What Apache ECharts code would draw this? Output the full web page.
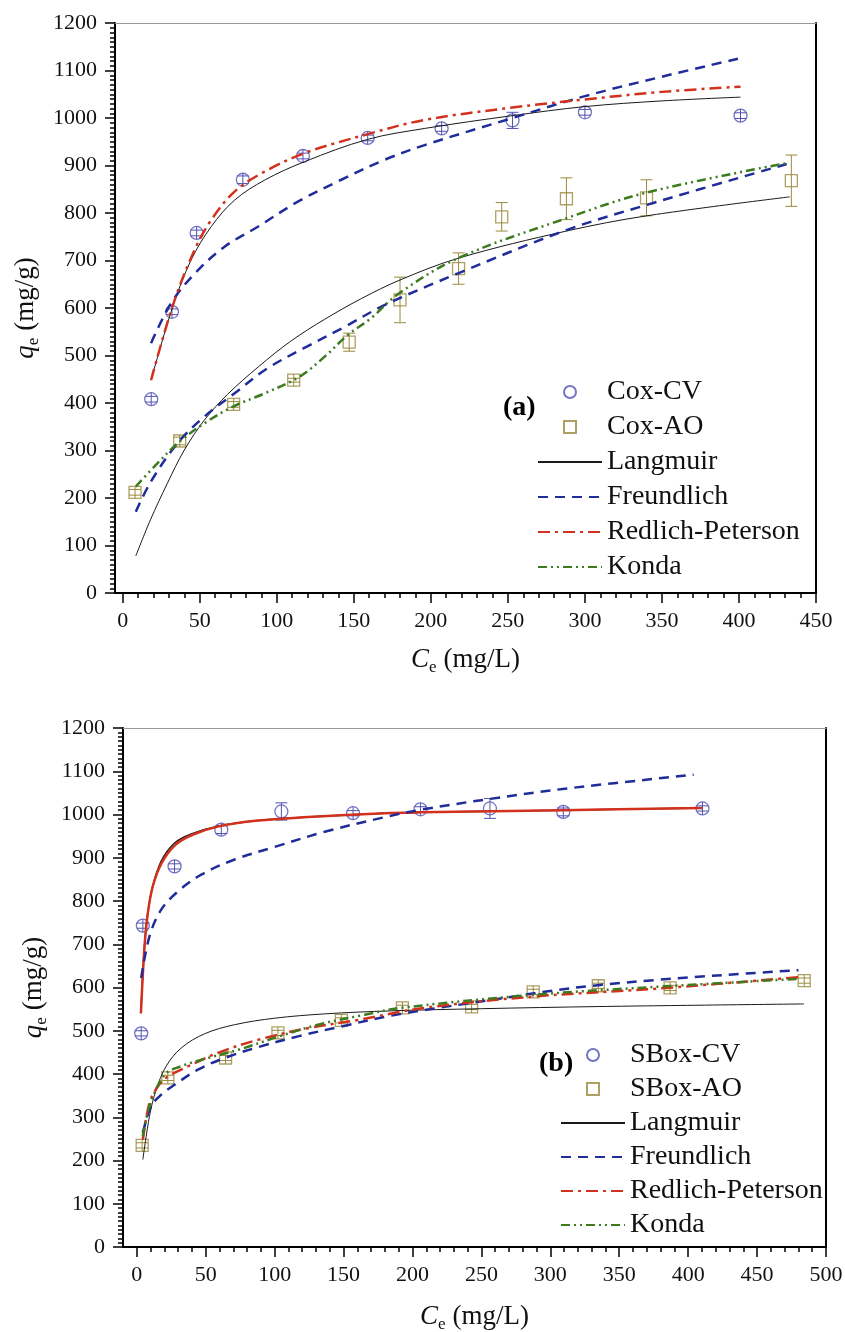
<!DOCTYPE html>
<html>
<head>
<meta charset="utf-8">
<script src="https://cdn.jsdelivr.net/npm/echarts@6/dist/echarts.min.js"></script>
<style>
  html, body { margin: 0; padding: 0; background: #fff; }
  #chart { width: 845px; height: 1332px; }
</style>
</head>
<body>
<div id="chart"></div>
<script>
// ---------- (a) Cox samples ----------
const cvA_C = [18.5, 32, 48, 78, 117, 159, 207, 253, 300, 401]
const cvA_q = [408, 592, 758, 870, 920, 958, 978, 995, 1012, 1005]
const cvA_err = [6, 6, 6, 8, 6, 6, 6, 17, 6, 6]

const aoA_C = [8, 37, 72, 111, 147, 180, 218, 246, 288, 340, 434]
const aoA_q = [212, 320, 397, 448, 528, 617, 683, 792, 830, 832, 868]
const aoA_err = [6, 8, 6, 4, 19, 48, 33, 30, 44, 38, 54]

// fitted curves (a)
const langCvA_C = [18.4, 32.5, 44.4, 57.4, 72.6, 92, 118, 159, 196, 253, 300, 350, 401]
const langCvA_q = [448, 603, 701, 771, 827, 869, 908, 955, 978, 1005, 1024, 1036, 1044]
const rpCvA_C = [18.4, 32.5, 46.6, 57.4, 72.6, 92, 118, 159, 196, 253, 300, 350, 401]
const rpCvA_q = [448, 605, 722, 785, 845, 887, 926, 966, 996, 1022, 1039, 1055, 1066]
const frCvA_C = [18.4, 31.4, 46.6, 66.1, 87.7, 113.7, 141.9, 170, 196, 253, 300, 350, 401]
const frCvA_q = [526, 610, 672, 729, 771, 824, 870, 912, 943, 1000, 1046, 1087, 1126]

const langAoA_C = [8.5, 18, 29, 40, 53, 68, 88, 109, 131, 155, 180, 218, 288, 340, 433]
const langAoA_q = [78, 154, 231, 301, 364, 418, 476, 530, 576, 620, 659, 705, 762, 794, 834]
const frAoA_C = [8.5, 18.2, 35.5, 52.9, 72.4, 94, 117.9, 143.9, 169.9, 217.7, 288, 340, 431]
const frAoA_q = [171, 234, 315, 371, 420, 473, 516, 560, 606, 673, 764, 817, 903]
const kdAoA_C = [8.5, 22.5, 36.6, 52.9, 71.3, 91.9, 114.6, 130.9, 146, 161, 179, 217.7, 288, 340, 431]
const kdAoA_q = [224, 273, 318, 357, 392, 420, 455, 497, 543, 578, 630, 705, 789, 843, 905]

// ---------- (b) SBox samples ----------
const cvB_C = [3.2, 4.4, 27.4, 61.3, 104.9, 156.9, 205.8, 256.2, 309.4, 410.4]
const cvB_q = [494, 743, 880, 965, 1007, 1003, 1012, 1014, 1006, 1014]
const cvB_err = [6, 6, 6, 9, 20, 6, 6, 23, 9, 6]

const aoB_C = [3.9, 22.5, 64.4, 102.4, 148.4, 192.7, 242.9, 287.6, 334.8, 386.9, 484.2]
const aoB_q = [235, 391, 437, 495, 524, 553, 555, 590, 604, 599, 616]
const aoB_err = [6, 6, 6, 6, 6, 6, 6, 6, 6, 6, 6]

// fitted curves (b)
const langCvB_C = [3.0, 5.6, 8, 11.6, 17.7, 27.4, 39.5, 58.8, 87.9, 124.2, 180, 206, 309, 410]
const langCvB_q = [545, 695, 772, 834, 892, 934, 955, 973, 986, 994, 1003, 1005, 1010, 1015]
const rpCvB_C = [3.0, 5.6, 8, 11.6, 17.7, 27.4, 39.5, 58.8, 87.9, 124.2, 180, 206, 309, 410]
const rpCvB_q = [540, 695, 772, 834, 886, 928, 952, 972, 986, 994, 1003, 1005, 1010, 1015]
const frCvB_C = [3.2, 9.2, 17.7, 29.8, 46.8, 71, 100, 136.3, 180, 206, 256, 309, 404]
const frCvB_q = [622, 718, 780, 822, 861, 896, 925, 960, 994, 1011, 1036, 1059, 1092]

const langAoB_C = [4.4, 9.2, 14.1, 21.3, 32.2, 49.2, 71, 100, 136.3, 184.8, 250, 336, 484]
const langAoB_q = [202, 302, 364, 418, 460, 493, 514, 529, 539, 546, 551, 556, 562]
const frAoB_C = [4.4, 10.4, 17.7, 27.4, 44.3, 63.7, 87.9, 117, 148.5, 184.8, 240, 336, 480]
const frAoB_q = [264, 325, 352, 375, 410, 437, 462, 487, 510, 535, 563, 606, 640]
const rpAoB_C = [4.4, 9.2, 15.3, 22.5, 39.5, 58.8, 87.9, 124.2, 160.5, 209, 287.6, 384.5, 480]
const rpAoB_q = [248, 333, 371, 394, 421, 449, 479, 506, 525, 553, 579, 599, 624]
const kdAoB_C = [4.4, 9.2, 20.1, 32.2, 51.6, 75.8, 102.4, 131.5, 165.4, 192, 287.6, 384.5, 480]
const kdAoB_q = [256, 325, 398, 418, 437, 458, 486, 514, 537, 553, 583, 603, 620]

// axis ticks
const ticksA = [0, 50, 100, 150, 200, 250, 300, 350, 400, 450]
const ticksB = [0, 50, 100, 150, 200, 250, 300, 350, 400, 450, 500]
const minorA = Array.from({ length: 46 }, (_, i) => i * 10)
const minorB = Array.from({ length: 51 }, (_, i) => i * 10)

const FONT = '"Liberation Serif", "Times New Roman", serif'
const CV_COLOR = '#5252b4'
const AO_COLOR = '#9a8a3c'
const SQUARE = 'path://M0 0H10V10H0Z'
const LINE = {
  Langmuir: { color: '#1a1a1a', width: 1, type: 'solid' },
  Freundlich: { color: '#1f2c99', width: 2.5, type: [10, 7] },
  'Redlich-Peterson': { color: '#d2311d', width: 2.5, type: [12, 5, 3, 5] },
  Konda: { color: '#3d7b1f', width: 2.5, type: [9, 4, 2, 4, 2, 4] }
}

const pairs = (xs, ys) => xs.map((x, i) => [x, ys[i]])

// g = 0 for (a), 1 for (b)
function curve(name, xs, ys, g, override) {
  const ls = Object.assign({}, LINE[name], override || {})
  return {
    type: 'line', name, xAxisIndex: g * 3, yAxisIndex: g * 2,
    data: pairs(xs, ys), showSymbol: false, symbol: 'none',
    smooth: 0.35, z: 4, silent: true,
    color: ls.color,
    itemStyle: { color: ls.color, opacity: 0 },
    lineStyle: ls
  }
}

function points(name, xs, ys, g, symbol, size, color) {
  return {
    type: 'scatter', name, xAxisIndex: g * 3, yAxisIndex: g * 2,
    data: pairs(xs, ys), symbol, symbolSize: size, symbolKeepAspect: true,
    z: 3, silent: true,
    itemStyle: { color: 'rgba(255,255,255,0)', borderColor: color, borderWidth: 1.3 }
  }
}

function errorBars(id, xs, ys, es, g, color, r) {
  return {
    type: 'custom', name: id, xAxisIndex: g * 3, yAxisIndex: g * 2,
    data: xs.map((x, i) => [x, ys[i], es[i]]), encode: { x: 0, y: 1 },
    z: 3, silent: true,
    renderItem: (params, api) => {
      const x = api.value(0), y = api.value(1), e = api.value(2)
      const c = api.coord([x, y])
      const hi = api.coord([x, y + e])
      const lo = api.coord([x, y - e])
      const w = 6
      const st = { stroke: color, lineWidth: 1 }
      return {
        type: 'group',
        children: [
          { type: 'line', shape: { x1: c[0], y1: Math.min(hi[1], c[1] - r), x2: c[0], y2: Math.max(lo[1], c[1] + r) }, style: st },
          { type: 'line', shape: { x1: c[0] - w, y1: hi[1], x2: c[0] + w, y2: hi[1] }, style: st },
          { type: 'line', shape: { x1: c[0] - w, y1: lo[1], x2: c[0] + w, y2: lo[1] }, style: st }
        ]
      }
    }
  }
}

const nameRich = {
  v: { fontStyle: 'italic', fontSize: 27, fontFamily: FONT, color: '#111' },
  s: { fontSize: 17, fontFamily: FONT, color: '#111', padding: [16, 0, 0, 0] },
  t: { fontSize: 27, fontFamily: FONT, color: '#111' }
}

const plain = v => String(v)

function xAxes(g, min, max, majors, minors, gap) {
  const tick = { color: '#000', width: 1.5 }
  return [
    {
      gridIndex: g, type: 'value', min, max, position: 'bottom',
      axisLine: { show: true, onZero: false, lineStyle: { color: '#000', width: 2 } },
      axisTick: { show: true, customValues: majors, length: 10, lineStyle: tick },
      axisLabel: { customValues: majors, formatter: plain, fontSize: 22, fontFamily: FONT, color: '#111', margin: 17 },
      splitLine: { show: false },
      name: '{v|C}{s|e}{t| (mg/L)}', nameLocation: 'middle', nameGap: gap,
      nameTextStyle: { rich: nameRich }
    },
    {
      gridIndex: g, type: 'value', min, max, position: 'bottom',
      axisLine: { show: false, onZero: false },
      axisTick: { show: true, customValues: minors, length: 5, lineStyle: tick },
      axisLabel: { show: false }, splitLine: { show: false }
    },
    {
      gridIndex: g, type: 'value', min, max, position: 'top',
      axisLine: { show: true, onZero: false, lineStyle: { color: '#999', width: 1.2 } },
      axisTick: { show: false }, axisLabel: { show: false }, splitLine: { show: false }
    }
  ]
}

function yAxes(g, gap) {
  const tick = { color: '#000', width: 1.5 }
  return [
    {
      gridIndex: g, type: 'value', min: 0, max: 1200, interval: 100, position: 'left',
      axisLine: { show: true, onZero: false, lineStyle: { color: '#000', width: 2 } },
      axisTick: { show: true, length: 10, lineStyle: tick },
      minorTick: { show: true, splitNumber: 10, length: 5, lineStyle: tick },
      axisLabel: { formatter: plain, fontSize: 22, fontFamily: FONT, color: '#111', margin: 18 },
      splitLine: { show: false }, minorSplitLine: { show: false },
      name: '{v|q}{s|e}{t| (mg/g)}', nameLocation: 'middle', nameGap: gap,
      nameTextStyle: { rich: nameRich }
    },
    {
      gridIndex: g, type: 'value', min: 0, max: 1200, position: 'right',
      axisLine: { show: true, onZero: false, lineStyle: { color: '#000', width: 2 } },
      axisTick: { show: false }, axisLabel: { show: false }, splitLine: { show: false }
    }
  ]
}

function legend(names, left, top, gap) {
  return {
    orient: 'vertical', left, top, padding: 0, itemGap: gap,
    itemWidth: 64, itemHeight: 12, selectedMode: false,
    symbolKeepAspect: true,
    data: names,
    textStyle: { fontSize: 28, fontFamily: FONT, color: '#111' }
  }
}

const series = [
  // (a)
  curve('Langmuir', langCvA_C, langCvA_q, 0),
  curve('Freundlich', frCvA_C, frCvA_q, 0),
  curve('Redlich-Peterson', rpCvA_C, rpCvA_q, 0),
  curve('Langmuir', langAoA_C, langAoA_q, 0),
  curve('Freundlich', frAoA_C, frAoA_q, 0),
  curve('Konda', kdAoA_C, kdAoA_q, 0),
  errorBars('errCvA', cvA_C, cvA_q, cvA_err, 0, CV_COLOR, 6.5),
  errorBars('errAoA', aoA_C, aoA_q, aoA_err, 0, AO_COLOR, 6),
  points('Cox-CV', cvA_C, cvA_q, 0, 'circle', 13, CV_COLOR),
  points('Cox-AO', aoA_C, aoA_q, 0, SQUARE, 12, AO_COLOR),
  // (b)
  curve('Langmuir', langCvB_C, langCvB_q, 1, { width: 1.5 }),
  curve('Redlich-Peterson', rpCvB_C, rpCvB_q, 1, { type: 'solid' }),
  curve('Freundlich', frCvB_C, frCvB_q, 1),
  curve('Langmuir', langAoB_C, langAoB_q, 1),
  curve('Freundlich', frAoB_C, frAoB_q, 1),
  curve('Redlich-Peterson', rpAoB_C, rpAoB_q, 1),
  curve('Konda', kdAoB_C, kdAoB_q, 1),
  errorBars('errCvB', cvB_C, cvB_q, cvB_err, 1, CV_COLOR, 6.5),
  errorBars('errAoB', aoB_C, aoB_q, aoB_err, 1, AO_COLOR, 6),
  points('SBox-CV', cvB_C, cvB_q, 1, 'circle', 13, CV_COLOR),
  points('SBox-AO', aoB_C, aoB_q, 1, SQUARE, 12, AO_COLOR)
]

const chart = echarts.init(document.getElementById('chart'), null, { renderer: 'canvas' })

chart.setOption({
  backgroundColor: '#fff',
  animation: false,
  grid: [
    { left: 115, top: 23, width: 701, height: 570, outerBoundsMode: 'none', containLabel: false },
    { left: 123, top: 728, width: 703, height: 519, outerBoundsMode: 'none', containLabel: false }
  ],
  xAxis: [...xAxes(0, -5, 450, ticksA, minorA, 50), ...xAxes(1, -10, 500, ticksB, minorB, 53)],
  yAxis: [...yAxes(0, 72), ...yAxes(1, 72)],
  legend: [
    legend(['Cox-CV', 'Cox-AO', 'Langmuir', 'Freundlich', 'Redlich-Peterson', 'Konda'], 537, 378, 7),
    legend(['SBox-CV', 'SBox-AO', 'Langmuir', 'Freundlich', 'Redlich-Peterson', 'Konda'], 560, 1041, 6)
  ],
  graphic: [
    { type: 'text', left: 503, top: 394, style: { text: '(a)', font: 'bold 28px "Liberation Serif"', fill: '#000' } },
    { type: 'text', left: 539, top: 1050, style: { text: '(b)', font: 'bold 28px "Liberation Serif"', fill: '#000' } }
  ],
  series
})
</script>
</body>
</html>
